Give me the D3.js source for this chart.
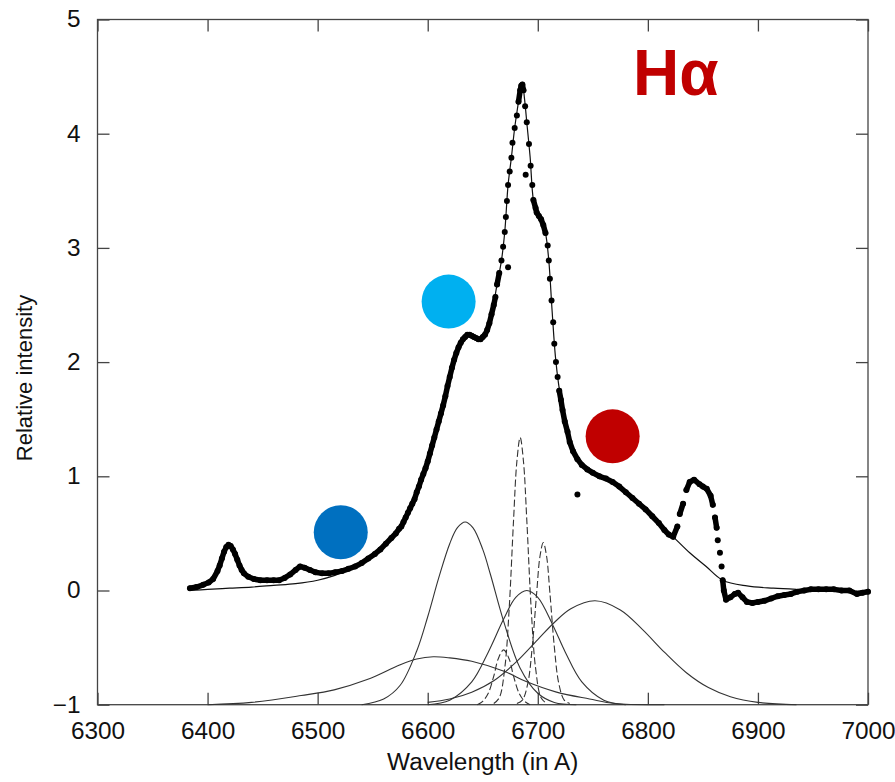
<!DOCTYPE html>
<html>
<head>
<meta charset="utf-8">
<script src="https://cdn.jsdelivr.net/npm/d3@7"></script>
<style>
  body { margin: 0; background: #fff; }
  text { font-family: "Liberation Sans", Arial, Helvetica, sans-serif; }
</style>
</head>
<body>
<svg id="chart" width="895" height="782"></svg>
<script>
// Observed H-alpha profile [wavelength, relative intensity]
const observed = [
  [6384,0.02],[6390,0.03],[6396,0.05],[6401,0.07],[6405,0.10],[6409,0.17],[6411,0.22],[6413,0.28],
  [6415,0.34],[6417,0.38],[6419,0.40],[6421,0.39],[6423,0.36],[6425,0.32],[6427,0.27],[6429,0.22],
  [6431,0.18],[6433,0.15],[6437,0.12],[6442,0.10],[6448,0.09],[6454,0.09],[6460,0.09],[6465,0.09],
  [6470,0.11],[6475,0.14],[6480,0.18],[6484,0.21],[6488,0.20],[6493,0.18],[6498,0.16],[6504,0.15],
  [6510,0.15],[6516,0.16],[6522,0.17],[6528,0.19],[6534,0.21],[6540,0.24],[6546,0.28],[6552,0.32],
  [6557,0.36],[6562,0.41],[6567,0.46],[6571,0.50],[6574,0.54],[6576,0.56],[6578,0.60],[6580,0.64],
  [6582,0.68],[6584,0.72],[6586,0.76],[6588,0.80],[6590,0.86],[6592,0.91],[6594,0.97],[6596,1.02],
  [6598,1.07],[6600,1.13],[6602,1.20],[6604,1.27],[6606,1.34],[6608,1.41],[6610,1.48],[6612,1.55],
  [6614,1.62],[6616,1.70],[6618,1.79],[6620,1.87],[6622,1.95],[6624,2.02],[6626,2.08],[6628,2.13],
  [6630,2.17],[6632,2.20],[6634,2.22],[6636,2.24],[6638,2.24],[6640,2.23],[6642,2.22],[6644,2.21],
  [6646,2.20],[6648,2.20],[6650,2.22],[6652,2.24],[6654,2.28],[6656,2.34],[6658,2.42],[6660,2.50],
  [6661.5,2.57],[6663,2.68],[6665,2.78],[6667,2.89],[6668.5,3.01],[6670,3.14],[6671,3.27],[6672,3.41],
  [6673,3.55],[6674.5,3.67],[6676,3.79],[6677,3.92],[6679,4.05],[6681,4.16],[6682.5,4.28],[6684,4.38],
  [6685,4.42],[6686,4.43],[6687,4.38],[6688.5,4.24],[6690,4.10],[6692,3.91],[6693.5,3.72],[6695,3.55],
  [6696,3.42],[6698,3.35],[6699,3.31],[6701,3.28],[6703,3.25],[6705,3.20],[6707,3.13],[6709,3.02],
  [6710,2.89],[6711,2.73],[6712.5,2.54],[6714,2.35],[6715,2.16],[6716.5,2.00],[6718,1.87],[6719.5,1.75],
  [6721,1.67],[6722.5,1.58],[6724.5,1.48],[6727,1.39],[6729,1.30],[6732,1.22],[6736,1.15],[6740,1.10],
  [6745,1.06],[6750,1.03],[6756,1.00],[6762,0.98],[6768,0.95],[6774,0.91],[6780,0.86],[6786,0.81],
  [6792,0.76],[6798,0.71],[6804,0.65],[6810,0.59],[6815,0.53],[6819,0.49],[6823,0.47],[6826.8,0.56],
  [6829,0.67],[6832,0.76],[6835,0.88],[6838,0.95],[6842,0.97],[6847,0.93],[6850,0.91],[6853.5,0.89],
  [6857,0.83],[6859,0.75],[6861,0.64],[6862.5,0.55],[6863.5,0.44],[6865.5,0.33],[6867,0.21],[6868,0.09],
  [6869,0.00],[6871,-0.08],[6875,-0.06],[6879,-0.03],[6882,-0.02],[6886,-0.06],[6890,-0.10],[6895,-0.11],
  [6900,-0.10],[6906,-0.09],[6912,-0.07],[6918,-0.05],[6924,-0.04],[6930,-0.03],[6936,-0.01],[6942,0.00],
  [6948,0.01],[6955,0.01],[6962,0.01],[6969,0.01],[6976,0.00],[6983,0.00],[6990,-0.03],[6995,-0.02],
  [7000,-0.01]
];

// stray points off the profile
const strays = [[6673,2.83],[6689,3.64],[6736,0.84]];

// total fit
const fit = [
  [6384,0.00],[6400,0.01],[6420,0.02],[6440,0.03],[6460,0.045],[6480,0.06],[6500,0.09],[6515,0.13],
  [6530,0.19],[6545,0.27],[6560,0.38],[6575,0.54],[6590,0.85],[6600,1.13],[6610,1.48],[6620,1.87],
  [6630,2.17],[6637,2.24],[6645,2.21],[6652,2.24],[6658,2.42],[6663,2.68],[6667,2.89],[6670,3.14],
  [6673,3.55],[6676,3.79],[6679,4.05],[6682,4.25],[6684,4.38],[6686,4.44],[6688,4.30],[6690,4.10],
  [6693,3.80],[6696,3.42],[6699,3.31],[6703,3.25],[6707,3.13],[6710,2.89],[6713,2.45],[6716,2.05],
  [6719,1.80],[6722,1.62],[6726,1.44],[6730,1.28],[6736,1.15],[6745,1.06],[6756,1.00],[6770,0.94],
  [6785,0.82],[6800,0.69],[6812,0.57],[6823,0.47],[6838,0.33],[6853,0.21],[6868,0.09],[6890,0.04],
  [6914,0.02],[6935,0.01]
];

// broad components (solid), offset to -1
const broadBlue = [
  [6400,-1.0],[6440,-0.98],[6485,-0.92],[6515,-0.87],[6545,-0.78],[6575,-0.65],[6590,-0.60],[6605,-0.58],
  [6620,-0.59],[6640,-0.62],[6670,-0.71],[6690,-0.80],[6717,-0.89],[6747,-0.95],[6770,-0.99],[6815,-1.0]
];
const blueWing = [
  [6540,-1.0],[6560,-0.95],[6575,-0.83],[6590,-0.53],[6600,-0.23],[6610,0.11],[6620,0.41],[6627,0.55],
  [6634,0.60],[6641,0.55],[6650,0.36],[6657,0.14],[6669,-0.27],[6684,-0.68],[6700,-0.90],[6715,-0.98],
  [6735,-1.0]
];
const coreBroad = [
  [6600,-1.0],[6620,-0.96],[6640,-0.80],[6655,-0.54],[6669,-0.25],[6680,-0.06],[6690,0.0],[6700,-0.06],
  [6714,-0.31],[6725,-0.54],[6740,-0.80],[6760,-0.96],[6780,-1.0]
];
const redWing = [
  [6600,-0.98],[6620,-0.95],[6640,-0.89],[6660,-0.79],[6680,-0.63],[6700,-0.43],[6715,-0.28],[6730,-0.16],
  [6752,-0.09],[6775,-0.17],[6795,-0.34],[6815,-0.54],[6835,-0.72],[6855,-0.85],[6875,-0.93],[6900,-0.98],
  [6935,-1.0]
];

// narrow components (dashed)
const narrowA = [
  [6645,-1.0],[6650,-0.97],[6655,-0.90],[6660,-0.75],[6664,-0.60],[6669,-0.52],[6674,-0.60],[6678,-0.75],
  [6683,-0.90],[6688,-0.97],[6693,-1.0]
];
const narrowB = [
  [6660,-0.99],[6665,-0.94],[6670,-0.68],[6674,-0.16],[6678,0.62],[6681,1.13],[6684,1.34],[6687,1.13],
  [6690,0.62],[6694,-0.16],[6698,-0.68],[6703,-0.94],[6708,-0.99]
];
const narrowC = [
  [6681,-0.99],[6686,-0.96],[6691,-0.81],[6695,-0.49],[6699,-0.02],[6702,0.30],[6705,0.42],[6708,0.30],
  [6711,-0.02],[6715,-0.49],[6719,-0.81],[6724,-0.96],[6729,-0.99]
];

const xTicks = [6300, 6400, 6500, 6600, 6700, 6800, 6900, 7000];
const yTicks = [-1, 0, 1, 2, 3, 4, 5];

// coloured markers [wavelength, intensity, colour]
const markers = [
  [6521, 0.51, "#0070c0"],
  [6619, 2.53, "#00b0f0"],
  [6768, 1.35, "#c00000"]
];

const margin = { top: 19.5, right: 27, bottom: 77.3, left: 97.5 };
const width = 895 - margin.left - margin.right;
const height = 782 - margin.top - margin.bottom;

const svg = d3.select("#chart")
  .append("g")
  .attr("transform", `translate(${margin.left},${margin.top})`);

const x = d3.scaleLinear().domain([6300, 7000]).range([0, width]);
const y = d3.scaleLinear().domain([-1, 5]).range([height, 0]);

const axisColor = "#444";

function styleAxis(g) {
  g.select(".domain").remove();
  g.selectAll(".tick line").attr("stroke", axisColor).attr("stroke-width", 1.3);
  g.selectAll(".tick text").attr("fill", "#111").style("font-size", "23px");
}

// bottom axis with labels
svg.append("g")
  .attr("transform", `translate(0,${height})`)
  .call(d3.axisBottom(x).tickValues(xTicks).tickSizeInner(-12).tickSizeOuter(0)
        .tickPadding(18).tickFormat(d3.format("d")))
  .call(styleAxis)
  .selectAll(".tick text").attr("transform", "scale(1.06,1)");

// left axis with labels
svg.append("g")
  .call(d3.axisLeft(y).tickValues(yTicks).tickSizeInner(-12).tickSizeOuter(0)
        .tickPadding(16).tickFormat(d3.format("d")))
  .call(styleAxis)
  .selectAll(".tick text").attr("transform", "scale(1.06,1)");

// mirror ticks
svg.append("g")
  .call(d3.axisTop(x).tickValues(xTicks).tickSizeInner(-12).tickSizeOuter(0).tickFormat(""))
  .call(styleAxis);
svg.append("g")
  .attr("transform", `translate(${width},0)`)
  .call(d3.axisRight(y).tickValues(yTicks).tickSizeInner(-12).tickSizeOuter(0).tickFormat(""))
  .call(styleAxis);

// frame
svg.append("rect")
  .attr("width", width)
  .attr("height", height)
  .attr("fill", "none")
  .attr("stroke", axisColor)
  .attr("stroke-width", 1.3);

const smooth = d3.line()
  .x(d => x(d[0]))
  .y(d => y(d[1]))
  .curve(d3.curveCatmullRom.alpha(0.5));

// components
[broadBlue, blueWing, coreBroad, redWing].forEach(c => {
  svg.append("path")
    .attr("d", smooth(c))
    .attr("fill", "none")
    .attr("stroke", "#333")
    .attr("stroke-width", 1.1);
});
[narrowA, narrowB, narrowC].forEach(c => {
  svg.append("path")
    .attr("d", smooth(c))
    .attr("fill", "none")
    .attr("stroke", "#333")
    .attr("stroke-width", 1.1)
    .attr("stroke-dasharray", "7,3");
});

// fit
svg.append("path")
  .attr("d", smooth(fit))
  .attr("fill", "none")
  .attr("stroke", "#111")
  .attr("stroke-width", 1.2);

// observed: dense runs merge into a thick line, steep parts stay as dots
const runs = [];
let run = [observed[0]];
for (let i = 1; i < observed.length; i++) {
  const a = observed[i - 1], b = observed[i];
  const gap = Math.hypot(x(b[0]) - x(a[0]), y(b[1]) - y(a[1]));
  if (gap < 12) run.push(b);
  else { runs.push(run); run = [b]; }
}
runs.push(run);

const straight = d3.line().x(d => x(d[0])).y(d => y(d[1]));
runs.filter(r => r.length > 1).forEach(r => {
  svg.append("path")
    .attr("d", straight(r))
    .attr("fill", "none")
    .attr("stroke", "#000")
    .attr("stroke-width", 5.5)
    .attr("stroke-linejoin", "round")
    .attr("stroke-linecap", "round");
});

svg.selectAll(".obs")
  .data(observed.concat(strays))
  .enter()
  .append("circle")
  .attr("class", "obs")
  .attr("cx", d => x(d[0]))
  .attr("cy", d => y(d[1]))
  .attr("r", 3)
  .attr("fill", "#000");

// coloured markers
svg.selectAll(".marker")
  .data(markers)
  .enter()
  .append("circle")
  .attr("class", "marker")
  .attr("cx", d => x(d[0]))
  .attr("cy", d => y(d[1]))
  .attr("r", 27)
  .attr("fill", d => d[2]);

// labels
svg.append("text")
  .attr("transform", `translate(${width / 2},${770 - margin.top}) scale(1.06,1)`)
  .attr("text-anchor", "middle")
  .attr("fill", "#111")
  .style("font-size", "23px")
  .text("Wavelength (in A)");

svg.append("text")
  .attr("transform", `translate(${32 - margin.left},${378 - margin.top}) rotate(-90)`)
  .attr("text-anchor", "middle")
  .attr("fill", "#111")
  .style("font-size", "22px")
  .text("Relative intensity");

svg.append("text")
  .attr("x", 633 - margin.left)
  .attr("y", 95 - margin.top)
  .attr("fill", "#c00000")
  .style("font-size", "64px")
  .style("font-weight", "bold")
  .text("Hα");
</script>
</body>
</html>
